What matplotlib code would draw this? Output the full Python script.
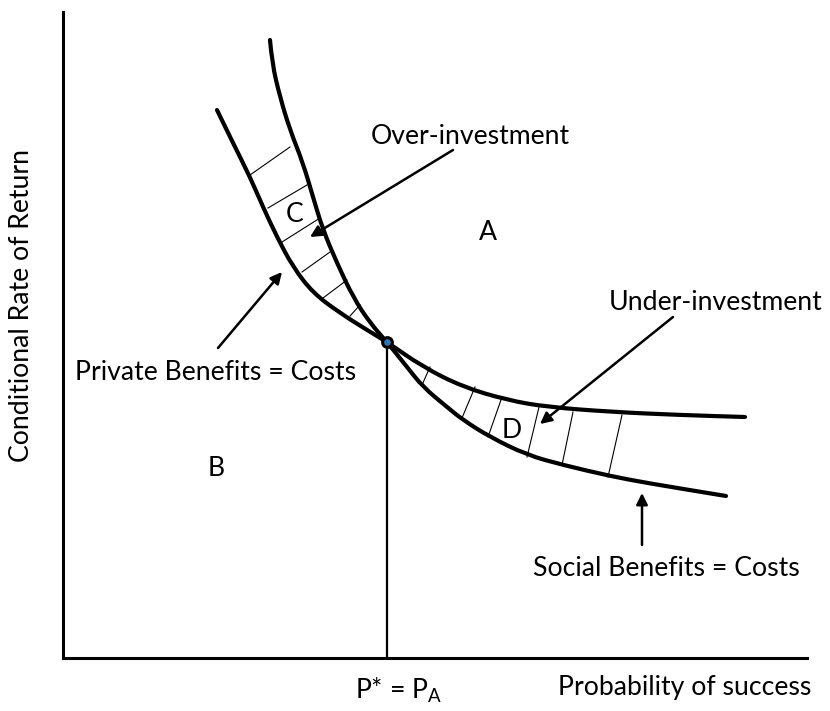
import numpy as np
import matplotlib.pyplot as plt
from matplotlib.path import Path
from matplotlib.patches import PathPatch

plt.rcParams['font.family'] = ['Lato', 'DejaVu Sans']
plt.rcParams['mathtext.default'] = 'regular'

# diagram units: x = probability of success, y = conditional rate of return
# social benefits = costs (steep curve, then lower right branch)
social_x = [207, 209, 217, 227, 240, 250, 260, 274, 290, 307, 324, 344, 360, 384, 400, 427, 464, 500, 547, 584, 663]
social_y = [618, 595, 561, 528, 495, 461, 428, 395, 361, 335, 316, 291, 271, 251, 238, 221, 203, 193, 182, 175, 162]

# private benefits = costs (flatter curve, then upper right branch)
private_x = [154, 170, 187, 200, 214, 230, 250, 277, 304, 324, 360, 400, 444, 484, 550, 617, 682]
private_y = [548, 515, 481, 451, 421, 391, 365, 345, 328, 316, 291, 271, 258, 251, 246, 243, 241]

# hatching between the curves (x1, y1, x2, y2)
hatch_c = [(187, 483, 227, 511), (205, 450, 244, 473), (219, 416, 257, 440),
           (239, 386, 267, 406), (260, 360, 284, 378), (287, 342, 297, 353)]
hatch_d = [(367, 291, 359, 273), (412, 271, 399, 240), (439, 261, 425, 221),
           (476, 251, 464, 201), (510, 246, 499, 193), (559, 243, 545, 181)]

p_star = (324, 316)

# annotations: text, text position, arrow tail, arrow head
notes = [
    ("Over-investment", (407, 521), (390, 508), (247, 421)),
    ("Under-investment", (653, 356), (610, 341), (477, 234)),
    ("Private Benefits = Costs", (153, 286), (155, 310), (219, 386)),
    ("Social Benefits = Costs", (603, 90), (579, 113), (579, 165)),
]
regions = [("A", (425, 425)), ("B", (153, 190)), ("C", (232, 443)), ("D", (449, 228))]


def smooth_path(xs, ys):
    # quadratic bezier through the midpoints, read points act as control points
    pts = list(zip(xs, ys))
    verts = [pts[0]]
    codes = [Path.MOVETO]
    for i in range(1, len(pts) - 1):
        mid = ((pts[i][0] + pts[i+1][0]) / 2, (pts[i][1] + pts[i+1][1]) / 2)
        verts += [pts[i], mid]
        codes += [Path.CURVE3, Path.CURVE3]
    verts.append(pts[-1])
    codes.append(Path.LINETO)
    return Path(verts, codes)


fig = plt.figure(figsize=(8.3, 7.11), dpi=100)
ax = fig.add_axes([63/830, 53/711, 744/830, 646/711])
ax.set_xlim(0, 744)
ax.set_ylim(0, 646)
for s in ['top', 'right']:
    ax.spines[s].set_visible(False)
for s in ['left', 'bottom']:
    ax.spines[s].set_linewidth(2.2)
ax.set_xticks([])
ax.set_yticks([])

for xs, ys in [(social_x, social_y), (private_x, private_y)]:
    ax.add_patch(PathPatch(smooth_path(xs, ys), fill=False, edgecolor='black',
                           lw=3, capstyle='round', joinstyle='round'))

for x1, y1, x2, y2 in hatch_c + hatch_d:
    ax.plot([x1, x2], [y1, y2], color='black', lw=0.8)

ax.plot([p_star[0], p_star[0]], [0, p_star[1]], color='black', lw=1.6)
ax.plot(*p_star, marker='o', ms=7, mfc='#2e75b6', mec='black', mew=2.2, zorder=5)

fs = 19.2
for txt, pos, tail, head in notes:
    ax.text(*pos, txt, ha='center', va='center', fontsize=fs, clip_on=False)
    ax.annotate('', xy=head, xytext=tail,
                arrowprops=dict(arrowstyle='-|>', lw=1.8, color='black',
                                mutation_scale=17, shrinkA=0, shrinkB=0))
for lab, pos in regions:
    ax.text(*pos, lab, ha='center', va='center', fontsize=fs)

ax.text(336, -32, r'P* = P$_{A}$', ha='center', va='center', fontsize=fs, clip_on=False)
ax.text(622, -30, 'Probability of success', ha='center', va='center', fontsize=fs, clip_on=False)
ax.text(-41, 353, 'Conditional Rate of Return', ha='center', va='center',
        rotation=90, fontsize=fs, clip_on=False)

fig.savefig('out.png', dpi=100)
